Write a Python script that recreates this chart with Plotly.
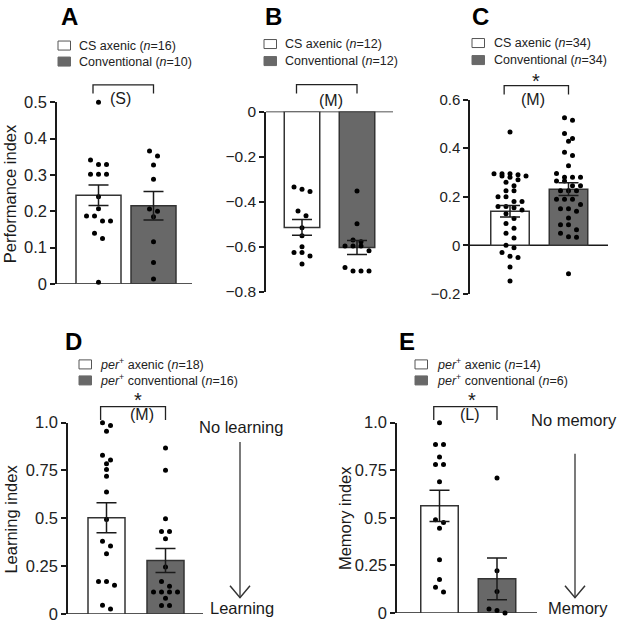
import plotly.graph_objects as go

W, H = 618, 623
FONT = "Liberation Sans, Arial, Helvetica, sans-serif"
INK = "#1a1a1a"
GREY_FILL = "#686868"

# ---------------- data ----------------
panel_letters = ["A", "B", "C", "D", "E"]

A_axenic = [0.50, 0.341, 0.329, 0.329, 0.302, 0.302, 0.302, 0.240, 0.207,
            0.187, 0.187, 0.173, 0.173, 0.139, 0.125, 0.004]
A_conv = [0.366, 0.352, 0.327, 0.288, 0.206, 0.200, 0.185, 0.116, 0.059, 0.013]
A_mean = [0.244, 0.215]
A_sem = [0.028, 0.039]

B_axenic = [-0.335, -0.345, -0.355, -0.441, -0.462, -0.516, -0.551, -0.600,
            -0.625, -0.625, -0.641, -0.676]
B_conv = [-0.352, -0.498, -0.570, -0.578, -0.596, -0.596, -0.596, -0.618,
          -0.692, -0.708, -0.708, -0.708]
B_mean = [-0.514, -0.603]
B_sem = [0.035, 0.031]

C_axenic = [0.467, 0.295, 0.295, 0.295, 0.29, 0.285, 0.285, 0.28, 0.27, 0.26,
            0.245, 0.225, 0.225, 0.2, 0.2, 0.18, 0.18, 0.16, 0.16, 0.155, 0.145,
            0.13, 0.11, 0.09, 0.07, 0.05, 0.03, 0.0, -0.01, -0.03, -0.045,
            -0.05, -0.09, -0.147]
C_conv = [0.525, 0.515, 0.46, 0.44, 0.428, 0.383, 0.37, 0.328, 0.296, 0.28,
          0.28, 0.28, 0.265, 0.265, 0.245, 0.245, 0.225, 0.225, 0.225, 0.19,
          0.19, 0.19, 0.168, 0.15, 0.15, 0.14, 0.112, 0.085, 0.085, 0.064,
          0.05, 0.035, 0.033, -0.117]
C_mean = [0.140, 0.231]
C_sem = [0.024, 0.026]

D_axenic = [1.0, 0.985, 0.955, 0.83, 0.805, 0.785, 0.755, 0.72, 0.637, 0.494,
            0.38, 0.355, 0.315, 0.17, 0.17, 0.15, 0.045, 0.025]
D_conv = [0.868, 0.751, 0.497, 0.431, 0.431, 0.393, 0.245, 0.17, 0.145, 0.114,
          0.114, 0.114, 0.114, 0.082, 0.044, 0.044]
D_mean = [0.503, 0.279]
D_sem = [0.078, 0.063]

E_axenic = [1.0, 0.885, 0.885, 0.82, 0.78, 0.78, 0.69, 0.49, 0.475, 0.445,
            0.28, 0.175, 0.135, 0.11]
E_conv = [0.709, 0.221, 0.113, 0.021, 0.013, 0.0]
E_mean = [0.563, 0.179]
E_sem = [0.082, 0.110]

legend_A = ["CS axenic (<i>n</i>=16)", "Conventional (<i>n</i>=10)"]
legend_B = ["CS axenic (<i>n</i>=12)", "Conventional (<i>n</i>=12)"]
legend_C = ["CS axenic (<i>n</i>=34)", "Conventional (<i>n</i>=34)"]
legend_D = ["<i>per</i><sup>+</sup> axenic (<i>n</i>=18)",
            "<i>per</i><sup>+</sup> conventional (<i>n</i>=16)"]
legend_E = ["<i>per</i><sup>+</sup> axenic (<i>n</i>=14)",
            "<i>per</i><sup>+</sup> conventional (<i>n</i>=6)"]

y_titles = ["Performance index", "", "", "Learning index", "Memory index"]
sig_labels = ["(S)", "(M)", "(M)", "(M)", "(L)"]
stars = ["", "", "*", "*", "*"]

A_ticks = [0, 0.1, 0.2, 0.3, 0.4, 0.5]
A_ticktext = ["0", "0.1", "0.2", "0.3", "0.4", "0.5"]
B_ticks = [0, -0.2, -0.4, -0.6, -0.8]
B_ticktext = ["0", "\u22120.2", "\u22120.4", "\u22120.6", "\u22120.8"]
C_ticks = [-0.2, 0, 0.2, 0.4, 0.6]
C_ticktext = ["\u22120.2", "0", "0.2", "0.4", "0.6"]
DE_ticks = [0, 0.25, 0.5, 0.75, 1.0]
DE_ticktext = ["0", "0.25", "0.5", "0.75", "1.0"]

D_side = ["No learning", "Learning"]
E_side = ["No memory", "Memory"]

# ---------------- layout geometry (pixels of the target picture) ----------------
panels = [
    dict(data=(A_axenic, A_conv), mean=A_mean, sem=A_sem, legend=legend_A,
         ticks=A_ticks, ticktext=A_ticktext, yr=(0, 0.5), ypx=(282, 100.7),
         L=57, R=192, c=(98.5, 153.5), bw=45, tf=16.5,
         letter=(69, 15), box=(58, 39.5, 55.5), tx=77, ty=(44, 60),
         br=(83.3, 92), lab=(120, 96.5), star=None, ylab=(10, 192.5)),
    dict(data=(B_axenic, B_conv), mean=B_mean, sem=B_sem, legend=legend_B,
         ticks=B_ticks, ticktext=B_ticktext, yr=(-0.8, 0), ypx=(290, 110),
         L=266, R=393, c=(302, 357), bw=35.5, tf=15.5,
         letter=(273.5, 15), box=(264, 38, 55), tx=283, ty=(42.5, 59.5),
         br=(83, 92), lab=(331, 98.5), star=None, ylab=None),
    dict(data=(C_axenic, C_conv), mean=C_mean, sem=C_sem, legend=legend_C,
         ticks=C_ticks, ticktext=C_ticktext, yr=(-0.2, 0.6), ypx=(292, 98),
         L=470, R=608, c=(510, 568.5), bw=38.5, tf=15,
         letter=(480, 15), box=(472, 37, 54), tx=492, ty=(41.5, 58.5),
         br=(84, 93), lab=(532.5, 98), star=(536, 79), ylab=None),
    dict(data=(D_axenic, D_conv), mean=D_mean, sem=D_sem, legend=legend_D,
         ticks=DE_ticks, ticktext=DE_ticktext, yr=(0, 1.0), ypx=(611.7, 420.7),
         L=68, R=203, c=(106.5, 165.5), bw=37, tf=16.5,
         letter=(73.5, 339.5), box=(79, 358, 374), tx=98, ty=(362.5, 378.5),
         br=(404.7, 418), lab=(141.5, 413), star=(138, 398.5), ylab=(11, 517.5)),
    dict(data=(E_axenic, E_conv), mean=E_mean, sem=E_sem, legend=legend_E,
         ticks=DE_ticks, ticktext=DE_ticktext, yr=(0, 1.0), ypx=(610.7, 420.7),
         L=397, R=537, c=(439.5, 497), bw=37.5, tf=16.5,
         letter=(407, 339.5), box=(415, 358, 374), tx=435, ty=(362.5, 378.5),
         br=(404.7, 418), lab=(470, 413), star=(471.7, 398.5), ylab=(345, 516)),
]

# calibration of the photographed page: paper top lands at YOFF, paper spans YSPAN px
YOFF = 7.5
YSPAN = 604.3


def px(x):
    return x / W


def py(y):
    return 1 - (y - YOFF) / YSPAN


def swarm_offsets(vals, ppu, step=8.0, thr=5.5, maxn=5):
    idx = sorted(range(len(vals)), key=lambda i: -vals[i])
    offs = [0.0] * len(vals)

    def flush(row):
        n = len(row)
        for k, i in enumerate(row):
            offs[i] = (k - (n - 1) / 2) * step

    row = []
    for i in idx:
        if row and (vals[row[0]] - vals[i]) * ppu < thr and len(row) < maxn:
            row.append(i)
        else:
            if row:
                flush(row)
            row = [i]
    if row:
        flush(row)
    return offs


fig = go.Figure()
shapes = []
annotations = []
layout = {}

for k, p in enumerate(panels):
    n = k + 1
    xa = "x" if n == 1 else f"x{n}"
    ya = "y" if n == 1 else f"y{n}"
    xk = "xaxis" if n == 1 else f"xaxis{n}"
    yk = "yaxis" if n == 1 else f"yaxis{n}"
    unit = p["c"][1] - p["c"][0]
    xr = [(p["L"] - p["c"][0]) / unit, (p["R"] - p["c"][0]) / unit]
    ppu = (p["ypx"][0] - p["ypx"][1]) / (p["yr"][1] - p["yr"][0])

    layout[xk] = dict(domain=[px(p["L"]), px(p["R"])], range=xr, anchor=ya,
                      showline=False, showticklabels=False, showgrid=False,
                      zeroline=False, ticks="", fixedrange=True)
    layout[yk] = dict(domain=[py(p["ypx"][0]), py(p["ypx"][1])],
                      range=list(p["yr"]), anchor=xa,
                      showline=True, linecolor=INK, linewidth=1.5,
                      ticks="outside", ticklen=5, tickwidth=1.5, tickcolor=INK,
                      tickvals=p["ticks"], ticktext=p["ticktext"],
                      tickfont=dict(size=p["tf"], color="#222", family=FONT),
                      showgrid=False, zeroline=False, fixedrange=True)

    # bars
    fig.add_trace(go.Bar(x=[0, 1], y=p["mean"], width=p["bw"] / unit,
                         marker=dict(color=["white", GREY_FILL],
                                     line=dict(color="#333", width=1.5)),
                         xaxis=xa, yaxis=ya, showlegend=False))
    # dots
    for g, vals in enumerate(p["data"]):
        offs = swarm_offsets(vals, ppu)
        fig.add_trace(go.Scatter(x=[g + o / unit for o in offs], y=vals,
                                 mode="markers",
                                 marker=dict(size=5, color="black"),
                                 xaxis=xa, yaxis=ya, showlegend=False,
                                 cliponaxis=False))
    # error bars (on top of dots)
    fig.add_trace(go.Scatter(x=[0, 1], y=p["mean"], mode="markers",
                             marker=dict(size=1, color="rgba(0,0,0,0)"),
                             error_y=dict(type="data", array=p["sem"],
                                          visible=True, color=INK,
                                          thickness=1.5, width=10),
                             xaxis=xa, yaxis=ya, showlegend=False,
                             cliponaxis=False))

    # zero line (x axis)
    shapes.append(dict(type="line", xref=f"{xa} domain", x0=0, x1=1,
                       yref=ya, y0=0, y1=0, layer="below",
                       line=dict(color=INK, width=1.5)))

    # bracket
    y0, y1 = p["br"]
    shapes.append(dict(type="path", xref=xa, yref="paper",
                       path=f"M -0.1,{py(y1)} L -0.1,{py(y0)} L 1.0,{py(y0)} L 1.0,{py(y1)}",
                       line=dict(color="#222", width=1.3)))
    annotations.append(dict(x=px(p["lab"][0]), y=py(p["lab"][1]), xref="paper",
                            yref="paper", text=sig_labels[k], showarrow=False,
                            xanchor="center", yanchor="middle",
                            font=dict(size=16, color=INK, family=FONT)))
    if p["star"] is not None:
        annotations.append(dict(x=px(p["star"][0]), y=py(p["star"][1]),
                                xref="paper", yref="paper", text=stars[k],
                                showarrow=False, xanchor="center",
                                yanchor="middle",
                                font=dict(size=20, color=INK, family=FONT)))

    # panel letter
    annotations.append(dict(x=px(p["letter"][0]), y=py(p["letter"][1]),
                            xref="paper", yref="paper",
                            text=f"<b>{panel_letters[k]}</b>", showarrow=False,
                            xanchor="center", yanchor="middle",
                            font=dict(size=24, color="black", family=FONT)))

    # legend
    bx, wy, gy = p["box"]
    shapes.append(dict(type="rect", xref="paper", yref="paper",
                       x0=px(bx), x1=px(bx + 12.5), y0=py(wy), y1=py(wy + 9),
                       fillcolor="white", line=dict(color="#555", width=1)))
    shapes.append(dict(type="rect", xref="paper", yref="paper",
                       x0=px(bx), x1=px(bx + 12.5), y0=py(gy), y1=py(gy + 9),
                       fillcolor=GREY_FILL, line=dict(color=GREY_FILL, width=1)))
    for j in range(2):
        annotations.append(dict(x=px(p["tx"]), y=py(p["ty"][j]), xref="paper",
                                yref="paper", text=p["legend"][j],
                                showarrow=False, xanchor="left",
                                yanchor="middle",
                                font=dict(size=12.5, color="#222", family=FONT)))

    # y title
    if p["ylab"] is not None:
        annotations.append(dict(x=px(p["ylab"][0]), y=py(p["ylab"][1]),
                                xref="paper", yref="paper", text=y_titles[k],
                                textangle=-90, showarrow=False,
                                xanchor="center", yanchor="middle",
                                font=dict(size=16.5, color=INK, family=FONT)))

# side texts and open arrows for D and E
side = [
    dict(texts=D_side, top=(240.5, 425.5), bot=(241.5, 605.5), ax=240,
         a0=440, a1=595.5),
    dict(texts=E_side, top=(573.5, 418.5), bot=(577.5, 605.5), ax=575,
         a0=451.7, a1=595.5),
]
for s in side:
    annotations.append(dict(x=px(s["top"][0]), y=py(s["top"][1]), xref="paper",
                            yref="paper", text=s["texts"][0], showarrow=False,
                            xanchor="center", yanchor="middle",
                            font=dict(size=16.5, color=INK, family=FONT)))
    annotations.append(dict(x=px(s["bot"][0]), y=py(s["bot"][1]), xref="paper",
                            yref="paper", text=s["texts"][1], showarrow=False,
                            xanchor="center", yanchor="middle",
                            font=dict(size=16.5, color=INK, family=FONT)))
    shapes.append(dict(type="line", xref="paper", yref="paper",
                       x0=px(s["ax"]), x1=px(s["ax"]), y0=py(s["a0"]),
                       y1=py(s["a1"]), line=dict(color="#333", width=1.3)))
    shapes.append(dict(type="path", xref="paper", yref="paper",
                       path=(f"M {px(s['ax'] - 10)},{py(s['a1'] - 12)} "
                             f"L {px(s['ax'])},{py(s['a1'])} "
                             f"L {px(s['ax'] + 10)},{py(s['a1'] - 12)}"),
                       line=dict(color="#333", width=1.5)))

fig.update_layout(width=W, height=H, autosize=False,
                  margin=dict(l=0, r=0, t=0, b=0),
                  paper_bgcolor="white", plot_bgcolor="rgba(0,0,0,0)",
                  showlegend=False, shapes=shapes, annotations=annotations,
                  font=dict(family=FONT, color=INK), **layout)

fig.write_html("out.html", config={"displayModeBar": False},
               post_script="document.body.style.margin='0';"
                           "document.body.style.overflow='hidden';")
